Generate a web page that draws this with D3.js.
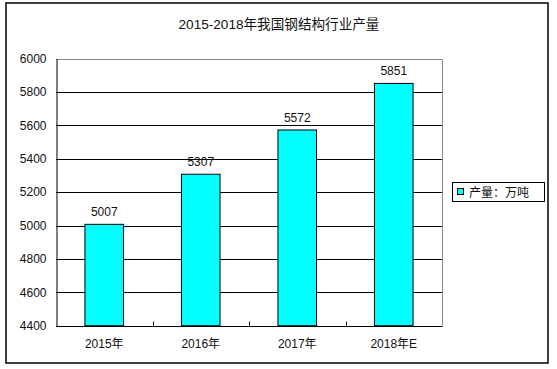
<!DOCTYPE html>
<html><head><meta charset="utf-8">
<script src="https://cdn.jsdelivr.net/npm/d3@7"></script>
<style>
body{margin:0;background:#fff;}
text{font-family:"Liberation Sans","Noto Sans CJK SC",sans-serif;fill:#111;}
</style></head>
<body><svg id="c" width="557" height="369"></svg>
<script>
const title = "2015-2018年我国钢结构行业产量";
const categories = ["2015年","2016年","2017年","2018年E"];
const values = [5007,5307,5572,5851];
const yTicks = [4400,4600,4800,5000,5200,5400,5600,5800,6000];
const seriesName = "产量：万吨";

const svg = d3.select("#c");
const L=56,R=442,T=58.5,B=325.7;

svg.append("rect").attr("x",6).attr("y",3).attr("width",542).attr("height",360)
  .attr("fill","#fff").attr("stroke","#000").attr("stroke-width",1.5);

svg.append("text").attr("x",279).attr("y",29).attr("text-anchor","middle")
  .style("font-size","13.6px").text(title);

const x = d3.scaleBand().domain(categories).range([L,R]).paddingInner(0.6).paddingOuter(0.3);
const y = d3.scaleLinear().domain([4400,6000]).range([B,T]);

// gridlines
svg.append("g").selectAll("line").data(yTicks.filter(t=>t>4400 && t<6000)).join("line")
  .attr("x1",L).attr("x2",R).attr("y1",d=>Math.round(y(d))+0.5).attr("y2",d=>Math.round(y(d))+0.5)
  .attr("stroke","#000").attr("stroke-width",1);

// top/right border gray
svg.append("path").attr("d",`M${L},${Math.round(T)+0.5}H${R+0.5}V${B}`)
  .attr("fill","none").attr("stroke","#888").attr("stroke-width",1);

// bars
svg.append("g").selectAll("rect").data(values).join("rect")
  .attr("x",(d,i)=>x(categories[i])).attr("width",x.bandwidth())
  .attr("y",d=>y(d)).attr("height",d=>B-y(d))
  .attr("fill","#00ffff").attr("stroke","#000").attr("stroke-width",1);

// value labels
svg.append("g").selectAll("text").data(values).join("text")
  .attr("x",(d,i)=>x(categories[i])+x.bandwidth()/2).attr("y",d=>y(d)-8)
  .attr("text-anchor","middle").style("font-size","12px").text(d=>d);

// y axis
const ya = svg.append("g").attr("transform",`translate(${L+0.5},0)`)
  .call(d3.axisLeft(y).tickValues(yTicks).tickSize(0).tickPadding(10).tickFormat(d3.format("d")));
ya.select(".domain").attr("stroke","#000");
ya.selectAll("text").style("font-size","12px").attr("fill","#111")
  .style("font-family","'Liberation Sans',sans-serif");

// x axis
svg.append("line").attr("x1",L).attr("x2",R+0.5).attr("y1",Math.round(B)+0.5).attr("y2",Math.round(B)+0.5)
  .attr("stroke","#000");
const bounds = d3.range(1,categories.length).map(i=>L+i*(R-L)/categories.length);
svg.append("g").selectAll("line").data(bounds).join("line")
  .attr("x1",d=>Math.round(d)+0.5).attr("x2",d=>Math.round(d)+0.5)
  .attr("y1",B-4).attr("y2",B).attr("stroke","#000");
svg.append("g").selectAll("text").data(categories).join("text")
  .attr("x",d=>x(d)+x.bandwidth()/2).attr("y",348).attr("text-anchor","middle")
  .style("font-size","12px").text(d=>d);

// legend
const lg = svg.append("g");
lg.append("rect").attr("x",452.5).attr("y",182.5).attr("width",92).attr("height",19)
  .attr("fill","#fff").attr("stroke","#000");
lg.append("rect").attr("x",457.5).attr("y",188.5).attr("width",6).attr("height",6)
  .attr("fill","#00ffff").attr("stroke","#000");
lg.append("text").attr("x",469).attr("y",196.5).style("font-size","12px").text(seriesName);
</script></body></html>
